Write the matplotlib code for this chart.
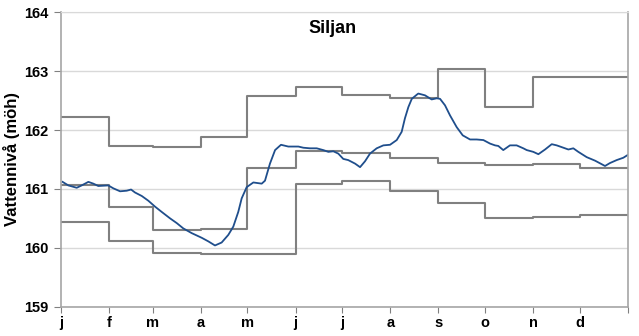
import matplotlib
matplotlib.use('Agg')
import matplotlib.pyplot as plt
import numpy as np

plt.rcParams['font.family'] = ['Liberation Sans', 'DejaVu Sans']

# month starts (day of year) and labels
month_start = [0, 31, 59, 90, 120, 151, 181, 212, 243, 273, 304, 334, 365]
month_labels = ['j', 'f', 'm', 'a', 'm', 'j', 'j', 'a', 's', 'o', 'n', 'd']

# monthly statistics (step lines)
level_max = [162.22, 161.73, 161.72, 161.88, 162.58, 162.73,
             162.59, 162.54, 163.04, 162.40, 162.90, 162.90]
level_med = [161.07, 160.69, 160.31, 160.32, 161.36, 161.65,
             161.61, 161.52, 161.44, 161.41, 161.42, 161.35]
level_min = [160.44, 160.12, 159.91, 159.89, 159.90, 161.09,
             161.14, 160.96, 160.76, 160.51, 160.53, 160.56]

# current year water level
day = [1, 4.7, 10.1, 13.3, 17.6, 20.8, 24, 30.4, 33.7, 38, 42.3, 45.1, 47.6,
       52, 56.2, 60.5, 64.8, 70.2, 74.5, 78.7, 84.1, 90.6, 94.8, 99.1, 103.4,
       107.7, 110.9, 114.1, 116.3, 119.5, 123.8, 129.2, 131.3, 134.5, 137.8,
       141.6, 146.3, 152.8, 156, 160.3, 164.6, 168.8, 172.1, 175.3, 178.5,
       181.7, 184.9, 189.3, 192.5, 195.7, 198.9, 203.2, 207.5, 211.8, 216.1,
       219.3, 221.4, 223.6, 225.8, 229, 230, 234.3, 238.6, 241.9, 244, 247.2,
       250.4, 254.7, 258.6, 263.3, 267.6, 271.9, 276.2, 279.4, 281.5, 284.7,
       289, 293.3, 297.6, 299.8, 304, 307.3, 311.6, 315.9, 319.1, 323.4,
       326.6, 329.8, 333, 338.4, 343.8, 350.2, 353.4, 357.7, 362, 365]
level = [161.12, 161.06, 161.02, 161.06, 161.12, 161.09, 161.05, 161.06,
         161.01, 160.96, 160.97, 160.99, 160.94, 160.88, 160.80, 160.70,
         160.61, 160.50, 160.42, 160.33, 160.25, 160.17, 160.11, 160.04,
         160.09, 160.22, 160.36, 160.61, 160.84, 161.03, 161.11, 161.09,
         161.14, 161.43, 161.66, 161.75, 161.72, 161.72, 161.70, 161.69,
         161.69, 161.66, 161.63, 161.64, 161.60, 161.51, 161.49, 161.43,
         161.37, 161.47, 161.60, 161.69, 161.74, 161.75, 161.83, 161.97,
         162.20, 162.39, 162.53, 162.60, 162.62, 162.59, 162.52, 162.54,
         162.53, 162.42, 162.25, 162.05, 161.91, 161.84, 161.84, 161.83,
         161.77, 161.74, 161.73, 161.66, 161.74, 161.74, 161.69, 161.66,
         161.63, 161.59, 161.67, 161.76, 161.74, 161.70, 161.67, 161.69,
         161.63, 161.54, 161.48, 161.39, 161.44, 161.49, 161.53, 161.58]

fig = plt.figure(figsize=(6.39, 3.36), dpi=100)
ax = fig.add_axes([0.0955, 0.0872, 0.8873, 0.8762])

gray = '#808080'
for vals in (level_max, level_med, level_min):
    ax.step(month_start, vals + [vals[-1]], where='post', color=gray, lw=1.5)
ax.plot(day, level, color='#1f4e8c', lw=1.3)

ax.set_xlim(0, 365)
ax.set_ylim(159, 164)
ax.set_yticks([159, 160, 161, 162, 163, 164])
ax.yaxis.grid(True, color='#d9d9d9', lw=1)
ax.set_axisbelow(True)

ax.set_xticks(month_start)
ax.set_xticklabels(month_labels + [''])
ax.tick_params(axis='x', length=4, color=gray, pad=3)
ax.tick_params(axis='y', length=5, color=gray, pad=4)
for lab in ax.get_xticklabels() + ax.get_yticklabels():
    lab.set_fontweight('bold')
    lab.set_fontsize(10.5)

for s in ('left', 'bottom', 'right'):
    ax.spines[s].set_color('#a6a6a6')
    ax.spines[s].set_linewidth(1.2)
ax.spines['top'].set_color('#d9d9d9')

ax.set_ylabel('Vattennivå (möh)', fontsize=12, fontweight='bold', labelpad=3)
ax.text(0.478, 0.975, 'Siljan', transform=ax.transAxes, ha='center', va='top',
        fontsize=13, fontweight='bold')

fig.savefig('out.png', dpi=100)
